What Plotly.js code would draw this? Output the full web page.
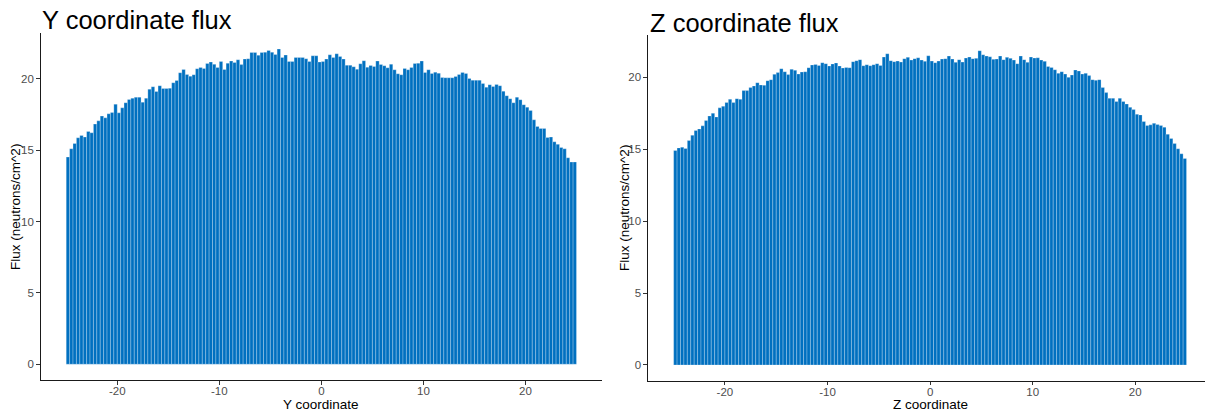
<!DOCTYPE html>
<html>
<head>
<meta charset="utf-8">
<script src="https://cdn.plot.ly/plotly-3.0.1.min.js"></script>
<style>
html,body{margin:0;padding:0;background:#ffffff;}
#chart{width:1205px;height:412px;}
</style>
</head>
<body>
<div id="chart"></div>
<script>
// Bin centres (bin width 1/3, from -25 to 25)
const binCenters = [
-24.833,-24.5,-24.167,-23.833,-23.5,-23.167,-22.833,-22.5,-22.167,-21.833,-21.5,-21.167,
-20.833,-20.5,-20.167,-19.833,-19.5,-19.167,-18.833,-18.5,-18.167,-17.833,-17.5,-17.167,
-16.833,-16.5,-16.167,-15.833,-15.5,-15.167,-14.833,-14.5,-14.167,-13.833,-13.5,-13.167,
-12.833,-12.5,-12.167,-11.833,-11.5,-11.167,-10.833,-10.5,-10.167,-9.833,-9.5,-9.167,
-8.833,-8.5,-8.167,-7.833,-7.5,-7.167,-6.833,-6.5,-6.167,-5.833,-5.5,-5.167,
-4.833,-4.5,-4.167,-3.833,-3.5,-3.167,-2.833,-2.5,-2.167,-1.833,-1.5,-1.167,
-0.833,-0.5,-0.167,0.167,0.5,0.833,1.167,1.5,1.833,2.167,2.5,2.833,
3.167,3.5,3.833,4.167,4.5,4.833,5.167,5.5,5.833,6.167,6.5,6.833,
7.167,7.5,7.833,8.167,8.5,8.833,9.167,9.5,9.833,10.167,10.5,10.833,
11.167,11.5,11.833,12.167,12.5,12.833,13.167,13.5,13.833,14.167,14.5,14.833,
15.167,15.5,15.833,16.167,16.5,16.833,17.167,17.5,17.833,18.167,18.5,18.833,
19.167,19.5,19.833,20.167,20.5,20.833,21.167,21.5,21.833,22.167,22.5,22.833,
23.167,23.5,23.833,24.167,24.5,24.833
];

// Flux along Y coordinate (neutrons/cm^2)
const yFlux = [
14.52,15.10,15.47,15.87,16.03,15.92,16.31,16.22,16.83,17.06,17.39,17.27,17.55,17.65,18.23,17.62,
17.97,18.33,18.56,18.65,18.72,18.72,18.37,18.65,19.28,19.45,19.12,19.52,19.33,19.33,19.35,19.73,
19.89,20.43,20.66,20.31,20.19,20.29,20.71,20.80,20.73,21.08,21.18,21.02,20.80,21.22,20.66,21.10,
21.25,21.15,21.34,21.00,21.39,21.41,21.85,21.85,21.66,21.85,21.87,21.99,21.87,21.71,22.09,
21.50,21.67,21.22,21.22,21.50,21.50,21.50,21.41,21.22,21.62,21.62,21.18,21.22,21.39,21.69,21.50,
21.76,21.57,21.39,20.96,20.96,20.85,20.68,21.06,21.27,20.82,20.94,20.87,21.25,21.01,20.92,20.78,
21.03,20.64,20.36,20.29,20.73,20.64,20.80,21.08,21.10,21.25,20.45,20.64,20.38,20.47,20.40,20.10,
20.08,20.08,20.08,20.17,20.31,20.45,20.38,20.03,19.91,19.91,19.91,19.68,19.42,19.59,19.47,19.61,
19.52,19.14,18.82,18.61,18.33,18.72,18.54,18.19,18.02,17.79,17.13,16.67,16.53,16.53,15.90,15.92,
15.59,15.41,15.19,15.10,14.47,14.17,14.17
];

// Flux along Z coordinate (neutrons/cm^2)
const zFlux = [
14.90,15.08,15.13,15.04,15.59,15.96,16.29,16.40,16.61,16.98,17.30,17.49,17.23,17.86,17.97,18.23,
18.46,18.23,18.50,18.46,19.06,19.06,19.27,19.38,19.61,19.45,19.43,19.75,19.82,20.19,20.31,20.58,
20.37,20.17,20.54,20.47,20.21,20.35,20.37,20.65,20.84,20.88,20.81,21.00,20.93,20.77,20.91,20.98,
20.77,20.63,20.67,20.65,21.07,21.14,21.21,20.79,20.86,20.79,20.86,20.93,20.81,21.39,21.62,
21.14,21.07,21.11,21.04,21.28,21.37,21.18,21.28,21.34,21.18,21.09,21.48,21.11,21.00,21.11,21.25,
21.28,21.46,21.25,21.02,21.21,21.04,21.32,21.39,21.28,21.30,21.83,21.55,21.46,21.41,21.23,21.25,
21.46,21.21,21.37,21.30,21.18,20.93,21.46,21.21,21.02,21.39,21.32,21.34,21.18,21.09,20.74,20.67,
20.51,20.26,20.37,20.21,19.98,20.14,20.49,20.42,20.21,20.26,20.10,
19.82,19.77,19.82,19.27,18.92,18.53,18.53,18.30,18.53,18.30,18.13,17.90,17.74,17.42,17.37,16.91,
16.63,16.68,16.79,16.70,16.63,16.52,16.03,15.73,15.38,15.02,14.67,14.35
];

const xTickVals = [-20, -10, 0, 10, 20];
const xTickText = ["-20", "-10", "0", "10", "20"];
const yTickVals = [0, 5, 10, 15, 20];
const yTickText = ["0", "5", "10", "15", "20"];
const panelTitles = ["Y coordinate flux", "Z coordinate flux"];
const xTitles = ["Y coordinate", "Z coordinate"];
const yTitle = "Flux (neutrons/cm^2)";

const W = 1205, H = 412;
const FONT = "Liberation Sans, Arial, Helvetica, sans-serif";
const BAR_COLOR = "#0070C0";

function fx(px){ return px / W; }
function fy(py){ return 1 - py / H; }

const barStyle = {
  color: BAR_COLOR,
  line: { color: "rgba(255,255,255,0.5)", width: 0.5 }
};

const traces = [
  { type: "bar", x: binCenters, y: yFlux, xaxis: "x", yaxis: "y",
    marker: barStyle, hoverinfo: "x+y" },
  { type: "bar", x: binCenters, y: zFlux, xaxis: "x2", yaxis: "y2",
    marker: barStyle, hoverinfo: "x+y" }
];

function maxOf(a){ return Math.max.apply(null, a); }
const yMax1 = maxOf(yFlux), yMax2 = maxOf(zFlux);

const axisCommon = {
  showline: true, linecolor: "#1a1a1a", linewidth: 1.1,
  showgrid: false, zeroline: false,
  ticks: "outside", ticklen: 3.5, tickwidth: 1, tickcolor: "#333333",
  tickfont: { family: FONT, size: 11.5, color: "#4d4d4d" },
  fixedrange: true
};

const layout = {
  width: W, height: H,
  margin: { l: 0, r: 0, t: 0, b: 0 },
  paper_bgcolor: "#ffffff", plot_bgcolor: "#ffffff",
  showlegend: false, bargap: 0,
  font: { family: FONT, color: "#000000" },
  xaxis: Object.assign({}, axisCommon, {
    domain: [fx(40.7), fx(602)], range: [-27.5, 27.5],
    tickmode: "array", tickvals: xTickVals, ticktext: xTickText, anchor: "y",
    ticklabelstandoff: -3
  }),
  yaxis: Object.assign({}, axisCommon, {
    domain: [fy(380), fy(33.3)], range: [-0.05 * yMax1, 1.05 * yMax1],
    tickmode: "array", tickvals: yTickVals, ticktext: yTickText, anchor: "x"
  }),
  xaxis2: Object.assign({}, axisCommon, {
    domain: [fx(648), 1], range: [-27.5, 26.8],
    tickmode: "array", tickvals: xTickVals, ticktext: xTickText, anchor: "y2",
    ticklabelstandoff: -3
  }),
  yaxis2: Object.assign({}, axisCommon, {
    domain: [fy(380.7), fy(35)], range: [-0.05 * yMax2, 1.05 * yMax2],
    tickmode: "array", tickvals: yTickVals, ticktext: yTickText, anchor: "x2"
  }),
  annotations: [
    { text: panelTitles[0], xref: "paper", yref: "paper", x: fx(40), y: fy(19.5),
      xanchor: "left", yanchor: "middle", showarrow: false,
      font: { family: FONT, size: 25.5, color: "#000" } },
    { text: panelTitles[1], xref: "paper", yref: "paper", x: fx(647.5), y: fy(22.5),
      xanchor: "left", yanchor: "middle", showarrow: false,
      font: { family: FONT, size: 25.5, color: "#000" } },
    { text: xTitles[0], xref: "paper", yref: "paper", x: fx(321.3), y: fy(404.5),
      xanchor: "center", yanchor: "middle", showarrow: false,
      font: { family: FONT, size: 13.5, color: "#000" } },
    { text: xTitles[1], xref: "paper", yref: "paper", x: fx(930), y: fy(404.5),
      xanchor: "center", yanchor: "middle", showarrow: false,
      font: { family: FONT, size: 13.5, color: "#000" } },
    { text: yTitle, xref: "paper", yref: "paper", x: fx(15), y: fy(207),
      xanchor: "center", yanchor: "middle", textangle: -90, showarrow: false,
      font: { family: FONT, size: 13.5, color: "#000" } },
    { text: yTitle, xref: "paper", yref: "paper", x: fx(624), y: fy(208),
      xanchor: "center", yanchor: "middle", textangle: -90, showarrow: false,
      font: { family: FONT, size: 13.5, color: "#000" } }
  ]
};

Plotly.newPlot("chart", traces, layout, { displayModeBar: false, staticPlot: true });
</script>
</body>
</html>
